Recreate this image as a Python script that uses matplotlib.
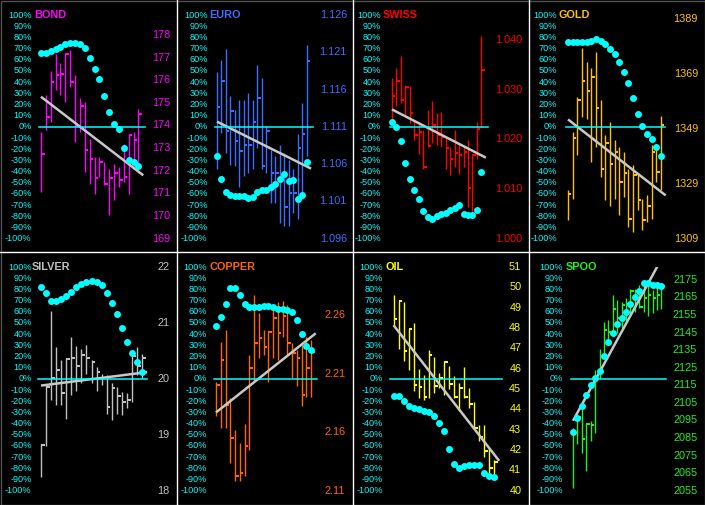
import numpy as np
import matplotlib
matplotlib.use("Agg")
import matplotlib.pyplot as plt
from matplotlib.transforms import blended_transform_factory
from matplotlib.patches import Rectangle
from matplotlib.lines import Line2D

# ---------------- DATA ----------------
names = ["BOND", "EURO", "SWISS", "GOLD", "SILVER", "COPPER", "OIL", "SPOO"]

bond_high = [173.72,175.34,176.42,177.16,176.74,177.22,177.33,176.23,175.22,175.05,173.42,172.61,172.61,172.39,172.10,172.32,172.17,173.20,173.60,173.72,174.75]
bond_low = [171.06,173.79,174.16,175.56,175.34,175.05,175.71,173.28,173.72,171.95,171.43,170.99,171.73,171.36,170.03,170.70,171.29,171.51,170.99,172.10,171.88]
bond_close = [172.73,174.38,175.90,176.23,176.27,177.14,175.90,173.97,174.86,172.91,172.54,171.68,172.39,171.43,171.68,171.88,171.58,171.73,173.57,173.35,174.50]
bond_pct = [66.3,66.3,68.1,69.6,71.3,73.7,75.2,75.2,73.7,70.7,61.8,51.9,42.4,27.8,13.4,2.7,-1.8,-18.8,-29.3,-31.3,-34.9]
bond_trend = [175.27, 171.80]
bond_range = [169.0, 178.88]
bond_ticks = [169, 170, 171, 172, 173, 174, 175, 176, 177, 178]

euro_high = [1.1184,1.1200,1.1215,1.1151,1.1133,1.1146,1.1146,1.1155,1.1146,1.1193,1.1175,1.1111,1.1079,1.1071,1.1086,1.1075,1.1066,1.1053,1.1100,1.1142,1.1220]
euro_low = [1.1053,1.1102,1.1075,1.1059,1.1057,1.1030,1.1044,1.1048,1.1053,1.1082,1.1053,1.1048,1.1008,1.1008,1.0981,1.0977,1.0977,1.0995,1.0986,1.1013,1.1071]
euro_close = [1.1137,1.1172,1.1104,1.1131,1.1091,1.1077,1.1086,1.1086,1.1117,1.1149,1.1058,1.1104,1.1048,1.1048,1.1044,1.1003,1.1021,1.1021,1.1082,1.1100,1.1198]
euro_pct = [-26,-46.9,-58.2,-61.2,-62.1,-62.1,-62.1,-63.6,-62.7,-58.2,-56.7,-56.1,-53.7,-50.7,-46.9,-41.8,-48.4,-47.8,-64.8,-60.6,-31.3]
euro_trend = [1.1117, 1.1054]
euro_range = [1.096, 1.126]
euro_ticks = [1.096, 1.101, 1.106, 1.111, 1.116, 1.121, 1.126]

swiss_high = [1.0323,1.0343,1.0368,1.0309,1.0307,1.0239,1.0235,1.0218,1.0259,1.0276,1.0252,1.0255,1.0205,1.0185,1.0218,1.0192,1.0185,1.0198,1.0171,1.0235,1.0407]
swiss_low = [1.0229,1.0266,1.0272,1.0249,1.0232,1.0198,1.0171,1.0141,1.0185,1.0192,1.0188,1.0185,1.0141,1.0128,1.0145,1.0131,1.0145,1.0064,1.0044,1.0161,1.0222]
swiss_close = [1.0288,1.0317,1.0280,1.0305,1.0253,1.0208,1.0215,1.0145,1.0187,1.0229,1.0208,1.0205,1.0182,1.0160,1.0173,1.0168,1.0175,1.0101,1.0168,1.0220,1.0340]
swiss_pct = [4.5,0,-12.5,-31.9,-46.9,-56.7,-64.8,-75.2,-80.6,-82.1,-80,-78.2,-76.7,-74.6,-72.2,-69.6,-77.6,-79.1,-78.5,-74.6,-40.3]
swiss_trend = [1.0260, 1.0163]
swiss_range = [1.000, 1.045]
swiss_ticks = [1.000, 1.010, 1.020, 1.030, 1.040]

gold_high = [1326.9,1348.0,1360.8,1378.4,1373.5,1371.1,1377.2,1359.5,1346.7,1351.6,1344.9,1342.5,1340.7,1334.6,1335.8,1332.7,1323.6,1324.8,1343.1,1343.7,1353.7]
gold_low = [1315.7,1323.6,1339.4,1353.4,1352.8,1337.0,1342.5,1331.5,1323.0,1320.9,1323.4,1317.5,1324.2,1313.3,1311.4,1319.4,1312.0,1315.1,1316.3,1329.7,1326.7]
gold_close = [1325.4,1345.8,1359.5,1366.5,1362.8,1368.1,1356.7,1334.3,1343.9,1336.2,1340.7,1329.7,1333.0,1316.3,1332.4,1323.0,1315.7,1320.8,1340.7,1333.4,1350.4]
gold_pct = [76.1,76.1,76.1,76.1,76.1,77,78.2,77,73.7,69.6,64.8,57.6,49.3,38.8,25.4,11.9,0.6,-6.6,-11,-17.9,-26.3]
gold_trend = [1352.5, 1324.8]
gold_range = [1309, 1390.6]
gold_ticks = [1309, 1329, 1349, 1369, 1389]

silver_high = [18.83,19.90,21.21,20.57,20.34,20.38,20.75,20.59,20.53,20.60,20.34,20.22,20.09,20.06,19.92,19.86,19.77,19.74,20.48,20.57,20.45]
silver_low = [18.24,18.80,19.62,19.53,19.53,19.28,19.71,19.78,19.92,20.08,19.92,19.78,19.89,19.38,19.27,19.38,19.36,19.47,19.59,20.07,20.01]
silver_close = [18.82,19.86,20.01,20.16,19.74,20.35,20.37,20.23,20.42,20.38,20.31,20.12,20.01,19.49,19.84,19.70,19.58,19.62,20.41,20.23,20.38]
silver_pct = [81.7,76.4,69.8,69.8,71,74,77.3,81.7,84.7,86.8,87.7,86.8,83.8,76.4,67.5,57.7,45.2,32.7,22.9,14.9,5.9]
silver_trend = [19.88, 20.12]
silver_range = [18.0, 22.0]
silver_ticks = [18, 19, 20, 21, 22]

copper_high = [2.2032,2.2373,2.2472,2.1890,2.1620,2.1506,2.1668,2.2259,2.2771,2.2614,2.2472,2.2458,2.2657,2.2714,2.2719,2.2685,2.2359,2.2302,2.2373,2.2415,2.2387]
copper_low = [2.1734,2.1634,2.1634,2.1336,2.1180,2.1180,2.1222,2.1449,2.2032,2.2231,2.2259,2.2032,2.2231,2.2217,2.2415,2.2259,2.2060,2.1995,2.1819,2.1904,2.1904]
copper_close = [2.2003,2.2217,2.1833,2.1549,2.1222,2.1251,2.1478,2.2146,2.2359,2.2407,2.2324,2.2452,2.2572,2.2444,2.2594,2.2364,2.2273,2.2231,2.1918,2.2146,2.2288]
copper_pct = [47.3,55.3,67.2,81.4,81.4,74.6,67.2,64.2,64.2,64.2,65.1,64.8,64.2,62.7,62.1,61.8,59.7,52.9,40.4,29.1,26.2]
copper_trend = [2.1768, 2.2444]
copper_range = [2.11, 2.301]
copper_ticks = [2.11, 2.16, 2.21, 2.26]

oil_high = [49.64,49.31,49.28,47.94,48.25,45.98,45.69,46.91,46.58,45.77,46.34,46.14,45.65,45.28,46.09,45.03,44.38,43.24,43.24,42.09,41.52]
oil_low = [48.14,46.99,46.37,45.93,44.90,44.54,44.46,44.54,44.79,45.03,44.71,45.00,44.54,43.92,44.54,44.05,43.07,42.42,41.68,40.62,40.62]
oil_close = [48.46,49.31,46.88,47.94,45.20,45.11,44.59,46.67,45.15,45.56,46.34,45.25,44.59,45.03,44.59,44.26,43.10,42.66,41.96,41.11,41.41]
oil_pct = [-15.2,-15.2,-19.7,-24.1,-25.9,-27.1,-28.6,-29.5,-33.1,-39.9,-46.5,-62.3,-76.3,-79.3,-78.1,-77.2,-77.2,-77.2,-83.8,-87,-87.6]
oil_trend = [48.14, 41.47]
oil_range = [40.0, 51.0]
oil_ticks = [40, 41, 42, 43, 44, 45, 46, 47, 48, 49, 50, 51]

spoo_high = [2090.9,2098.6,2104.3,2093.8,2094.8,2123.5,2135.9,2151.2,2152.1,2166.5,2163.6,2162.6,2164.6,2169.9,2169.7,2172.2,2173.2,2172.2,2169.0,2173.5,2172.2]
spoo_low = [2056.5,2081.4,2076.6,2066.1,2083.3,2088.1,2118.7,2133.0,2138.7,2145.4,2144.5,2147.4,2151.2,2155.0,2156.9,2158.8,2156.9,2154.6,2156.0,2157.9,2158.4]
spoo_close = [2087.1,2096.7,2084.3,2092.9,2092.3,2118.7,2131.7,2146.4,2145.4,2158.3,2153.1,2160.4,2161.1,2168.4,2168.4,2159.4,2164.6,2166.1,2164.6,2166.5,2171.3]
spoo_pct = [-47.6,-34.7,-24.3,-14.7,-5.7,0.9,7.2,20.7,32.6,41.3,49.1,54.2,59.6,67.1,73.1,78.7,85.6,85.6,84.1,84.1,82.6]
spoo_trend = [2094.8, 2191.4]
spoo_range = [2055.0, 2182.3]
spoo_ticks = [2055, 2065, 2075, 2085, 2095, 2105, 2115, 2125, 2135, 2145, 2155, 2165, 2175]

pct_ticks = list(range(-100, 101, 10))

# ---------------- STYLE / LAYOUT ----------------
colors = {"BOND": "#FF00FF", "EURO": "#3F6BFF", "SWISS": "#FF0000", "GOLD": "#FFC000",
          "SILVER": "#C0C0C0", "COPPER": "#FF6600", "OIL": "#FFFF00", "SPOO": "#22EE22"}
fmt = {"BOND": "{:.0f}", "EURO": "{:.3f}", "SWISS": "{:.3f}", "GOLD": "{:.0f}",
       "SILVER": "{:.0f}", "COPPER": "{:.2f}", "OIL": "{:.0f}", "SPOO": "{:.0f}"}
# label_right, title_x, first_bar_x, bar_spacing, zero_x0, zero_x1, right_label_edge (px)
geo = {"BOND": (31.7, 34.5, 41, 4.87, 39, 145, 170),
       "EURO": (31.7, 33.3, 41, 4.48, 39, 136.7, 171),
       "SWISS": (29.3, 30.5, 40, 4.47, 38.3, 136, 170.7),
       "GOLD": (29.3, 30.5, 40, 4.65, 37.7, 137.3, 170),
       "SILVER": (31.7, 31.7, 41, 5.05, 37.7, 147.3, 169.3),
       "COPPER": (31.3, 34, 40, 4.75, 37.7, 141, 169.3),
       "OIL": (31.3, 34, 41.5, 5.03, 37.7, 150, 169.3),
       "SPOO": (35, 37.5, 45, 4.42, 42.7, 137.7, 169.3)}

data = {
    "BOND": (bond_high, bond_low, bond_close, bond_pct, bond_trend, bond_range, bond_ticks),
    "EURO": (euro_high, euro_low, euro_close, euro_pct, euro_trend, euro_range, euro_ticks),
    "SWISS": (swiss_high, swiss_low, swiss_close, swiss_pct, swiss_trend, swiss_range, swiss_ticks),
    "GOLD": (gold_high, gold_low, gold_close, gold_pct, gold_trend, gold_range, gold_ticks),
    "SILVER": (silver_high, silver_low, silver_close, silver_pct, silver_trend, silver_range, silver_ticks),
    "COPPER": (copper_high, copper_low, copper_close, copper_pct, copper_trend, copper_range, copper_ticks),
    "OIL": (oil_high, oil_low, oil_close, oil_pct, oil_trend, oil_range, oil_ticks),
    "SPOO": (spoo_high, spoo_low, spoo_close, spoo_pct, spoo_trend, spoo_range, spoo_ticks),
}

CYAN = "#00FFFF"
FW, FH = 705, 505
col_x0 = [0, 176, 352, 528]
col_w = [176, 176, 176, 177]
row_y0 = [0, 252]
row_h = [251, 253]
TOP_PX, BOT_PX = 15.0, 238.7
PX2PT = 0.72

plt.rcParams["font.family"] = ["Liberation Sans", "DejaVu Sans"]
fig = plt.figure(figsize=(FW / 100, FH / 100), dpi=100, facecolor="black")

for k, name in enumerate(names):
    c, r = k % 4, k // 4
    x0, w = col_x0[c], col_w[c]
    y0, h = row_y0[r], row_h[r]
    lab_r, title_x, first, sp, zx0, zx1, right_edge = geo[name]
    high, low, close, pct, trend, prange, pticks = data[name]
    col = colors[name]
    n = len(close)
    xs = np.arange(n)

    rect = [x0 / FW, 1 - (y0 + h) / FH, w / FW, h / FH]
    axp = fig.add_axes(rect)              # price axis (below)
    ax = fig.add_axes(rect, sharex=axp)   # percent axis (above)
    for a in (ax, axp):
        a.set_facecolor("none")
        a.patch.set_visible(False)
        a.set_axis_off()
    ax.set_zorder(2)
    axp.set_zorder(1)

    axp.set_xlim(-first / sp, (w - first) / sp)
    per_px = 200.0 / (BOT_PX - TOP_PX)
    pct_top = 100 + TOP_PX * per_px
    pct_bot = 100 - (h - TOP_PX) * per_px
    ax.set_ylim(pct_bot, pct_top)
    pmin, pmax = prange
    to_price = lambda p: pmin + (p + 100) / 200.0 * (pmax - pmin)
    axp.set_ylim(to_price(pct_bot), to_price(pct_top))

    # zero line
    ax.axhline(0, xmin=zx0 / w, xmax=zx1 / w, color=CYAN, lw=1.1, zorder=1)

    # HLC bars
    axp.vlines(xs, low, high, color=col, lw=1.4 * PX2PT, zorder=2)
    axp.hlines(close, xs, xs + 0.75, color=col, lw=2.0 * PX2PT, zorder=2)

    # trend line, clipped to the +-100% band
    tl, = axp.plot([0, n], trend, color="#C8C8C8", lw=1.8, zorder=3, solid_capstyle="butt")
    clip = Rectangle((-5, pmin), n + 10, pmax - pmin, transform=axp.transData)
    tl.set_clip_path(clip)

    # percent dots
    ax.plot(xs, pct, "o", color=CYAN, ms=5.0, mec="none", zorder=4)

    # left percent labels
    tr_l = blended_transform_factory(ax.transAxes, ax.transData)
    for v in pct_ticks:
        ax.text(lab_r / w, v, f"{v}%", transform=tr_l, ha="right", va="center",
                color=CYAN, fontsize=6.6)
    # title
    ax.text(title_x / w, 100, name, transform=tr_l, ha="left", va="center",
            color=col, fontsize=7.8, fontweight="bold")
    # right price labels
    tr_r = blended_transform_factory(axp.transAxes, axp.transData)
    for v in pticks:
        axp.text(right_edge / w, v, fmt[name].format(v), transform=tr_r, ha="right",
                 va="center", color=col, fontsize=7.8)

# separators and border
sep = fig.add_axes([0, 0, 1, 1])
sep.set_axis_off()
sep.set_xlim(0, FW)
sep.set_ylim(FH, 0)
sep.set_zorder(5)
sep.patch.set_visible(False)
for xv in [176.5, 352.5, 528.5]:
    sep.add_line(Line2D([xv, xv], [0, FH], color="white", lw=1.0))
sep.add_line(Line2D([0, FW], [251.5, 251.5], color="white", lw=1.0))
sep.add_patch(Rectangle((0.5, 0.5), FW - 1, FH - 1, fill=False, ec="#505050", lw=1.0))

fig.savefig("out.png", dpi=100, facecolor="black")
